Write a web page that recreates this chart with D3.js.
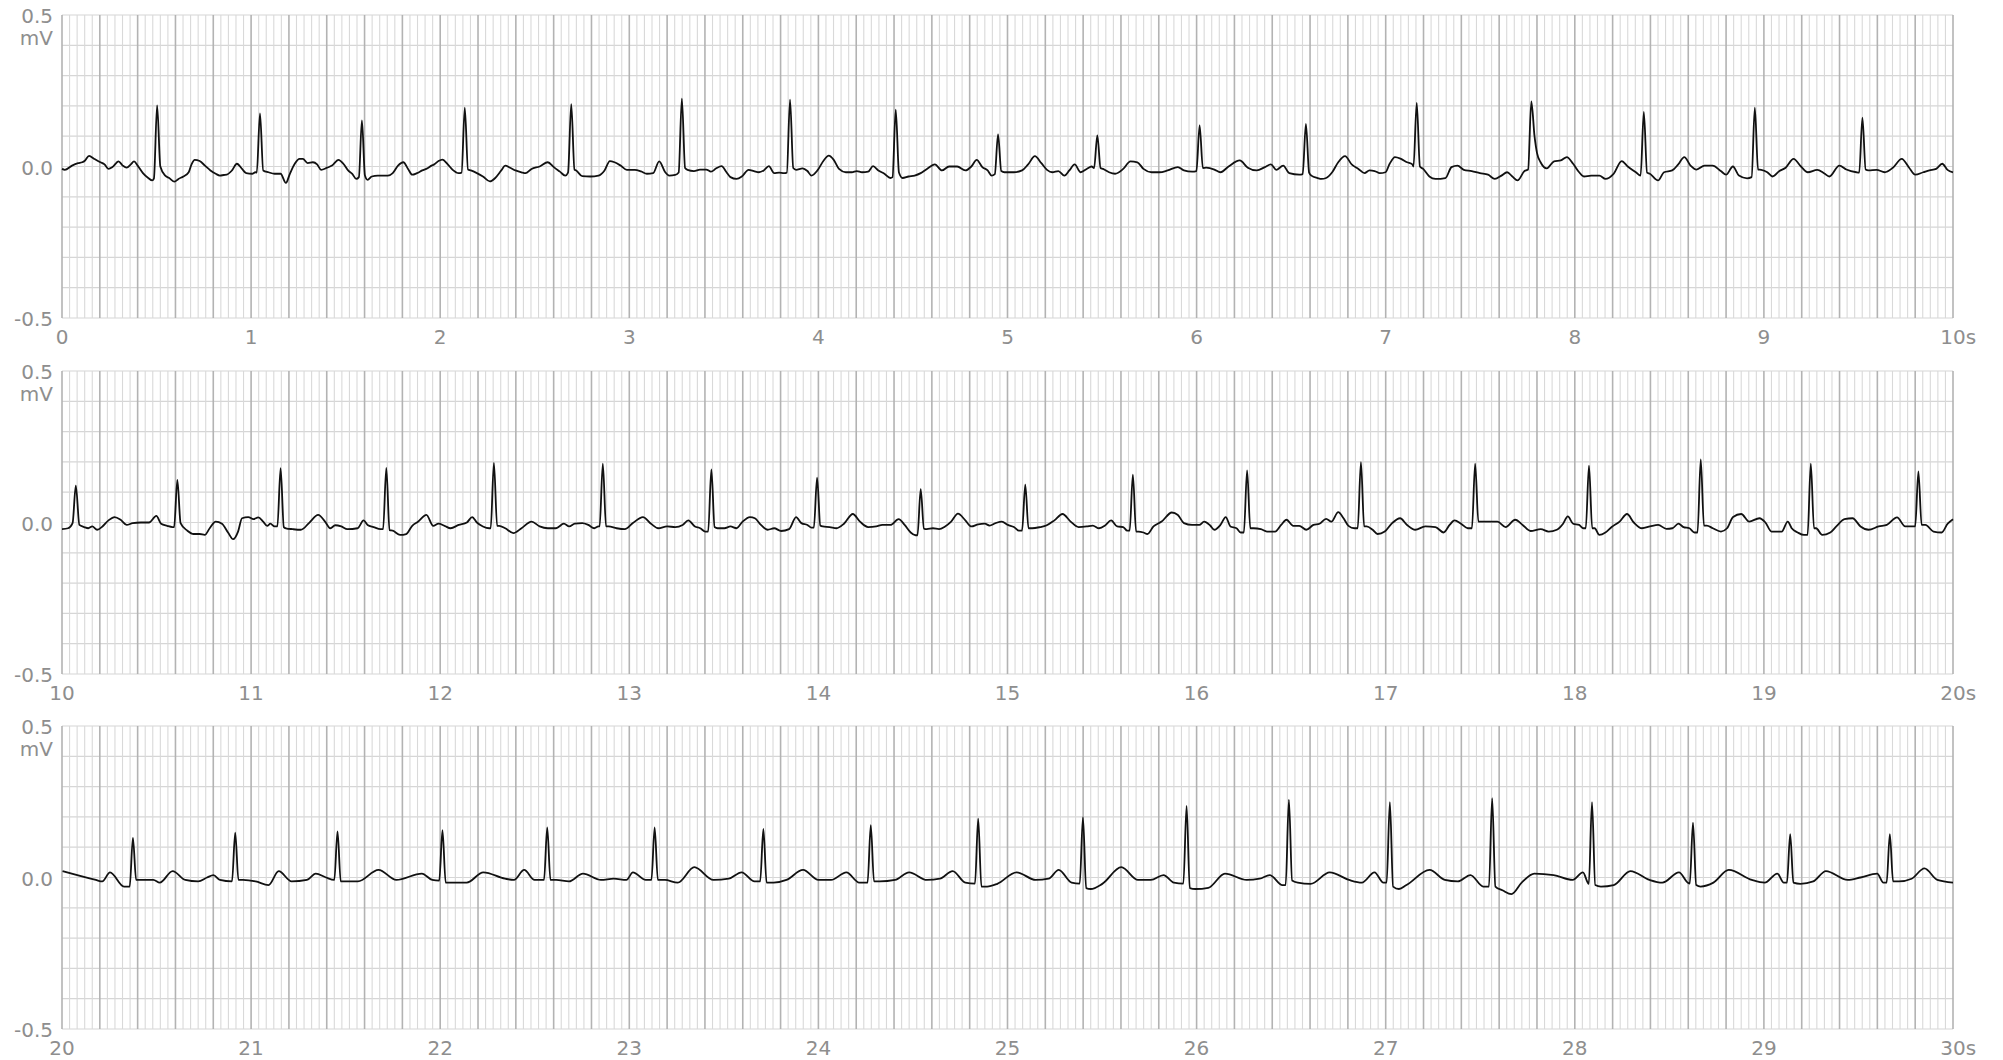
<!DOCTYPE html>
<html>

<head>
    <meta charset="utf-8">
    <title>ECG strip</title>
    <script src="https://d3js.org/d3.v7.min.js"></script>
    <style>
        body { margin: 0; background: #fff; }
        text { font-family: "DejaVu Sans", Lato, sans-serif; fill: #8e8e8e; font-size: 20px; }
    </style>
</head>

<body>
    <svg id="chart" width="2003" height="1060"></svg>

    <script>
        // Strip start times (s), y tick labels (mV)
        const stripStarts = [0, 10, 20];
        const yTickValues = [0.5, 0.0, -0.5];
        const yUnit = 'mV';
        const xUnit = 's';

        // ECG trace, [seconds, mV]
        const ecg1 = [[0.000,-0.008],[0.015,-0.011],[0.053,0.003],[0.085,0.011],[0.107,0.014],[0.122,0.020],[0.143,0.035],[0.171,0.025],[0.203,0.014],[0.225,0.007],[0.246,-0.008],[0.267,-0.002],[0.299,0.017],[0.321,0.003],[0.342,-0.004],[0.364,0.007],[0.381,0.017],[0.400,0.003],[0.428,-0.022],[0.456,-0.038],[0.477,-0.046],[0.486,-0.040],[0.503,0.202],[0.520,0.000],[0.546,-0.030],[0.567,-0.038],[0.595,-0.050],[0.616,-0.041],[0.642,-0.033],[0.670,-0.019],[0.685,0.007],[0.702,0.022],[0.728,0.018],[0.756,0.003],[0.785,-0.013],[0.813,-0.024],[0.835,-0.030],[0.856,-0.028],[0.871,-0.027],[0.899,-0.013],[0.925,0.009],[0.952,-0.008],[0.974,-0.022],[1.006,-0.024],[1.023,-0.019],[1.030,-0.020],[1.047,0.175],[1.064,-0.013],[1.092,-0.019],[1.124,-0.024],[1.156,-0.024],[1.184,-0.054],[1.205,-0.024],[1.231,0.009],[1.256,0.025],[1.274,0.025],[1.299,0.011],[1.327,0.014],[1.349,0.007],[1.370,-0.011],[1.402,-0.004],[1.428,0.003],[1.462,0.022],[1.488,0.009],[1.513,-0.013],[1.535,-0.024],[1.556,-0.041],[1.570,-0.035],[1.586,0.152],[1.602,-0.030],[1.616,-0.044],[1.638,-0.033],[1.670,-0.030],[1.702,-0.030],[1.723,-0.030],[1.749,-0.022],[1.777,0.003],[1.805,0.014],[1.830,-0.008],[1.852,-0.027],[1.877,-0.022],[1.905,-0.013],[1.933,-0.006],[1.954,0.003],[1.969,0.007],[1.991,0.018],[2.012,0.023],[2.040,0.007],[2.066,-0.011],[2.098,-0.022],[2.113,-0.020],[2.130,0.194],[2.147,-0.010],[2.162,-0.013],[2.194,-0.022],[2.226,-0.033],[2.263,-0.049],[2.291,-0.038],[2.323,-0.013],[2.344,0.003],[2.370,-0.004],[2.398,-0.013],[2.430,-0.019],[2.451,-0.022],[2.483,-0.008],[2.526,0.000],[2.569,0.014],[2.601,-0.002],[2.633,-0.017],[2.661,-0.030],[2.676,-0.020],[2.693,0.206],[2.710,-0.010],[2.719,-0.013],[2.751,-0.032],[2.794,-0.033],[2.837,-0.030],[2.869,-0.013],[2.897,0.018],[2.922,0.014],[2.954,0.003],[2.987,-0.011],[3.029,-0.011],[3.062,-0.016],[3.093,-0.024],[3.126,-0.022],[3.158,0.017],[3.190,-0.019],[3.211,-0.030],[3.243,-0.028],[3.261,-0.020],[3.278,0.224],[3.295,-0.005],[3.308,-0.011],[3.342,-0.015],[3.374,-0.010],[3.407,-0.010],[3.432,-0.017],[3.460,-0.006],[3.488,0.001],[3.514,-0.019],[3.535,-0.035],[3.567,-0.041],[3.595,-0.033],[3.631,-0.011],[3.659,-0.015],[3.685,-0.019],[3.711,-0.013],[3.738,0.001],[3.766,-0.022],[3.792,-0.020],[3.818,-0.022],[3.833,-0.020],[3.850,0.221],[3.867,-0.005],[3.882,-0.011],[3.916,-0.006],[3.942,-0.015],[3.963,-0.030],[3.995,-0.013],[4.028,0.020],[4.055,0.036],[4.081,0.022],[4.109,-0.008],[4.145,-0.019],[4.177,-0.019],[4.203,-0.015],[4.231,-0.019],[4.263,-0.017],[4.289,0.001],[4.317,-0.013],[4.349,-0.024],[4.381,-0.038],[4.392,-0.035],[4.409,0.188],[4.426,-0.020],[4.445,-0.038],[4.477,-0.033],[4.509,-0.030],[4.541,-0.022],[4.574,-0.008],[4.616,0.007],[4.653,-0.013],[4.691,0.000],[4.734,0.000],[4.777,-0.013],[4.809,0.000],[4.837,0.022],[4.867,-0.002],[4.895,-0.013],[4.916,-0.030],[4.933,-0.025],[4.950,0.106],[4.967,-0.015],[4.984,-0.019],[5.034,-0.019],[5.077,-0.013],[5.109,0.007],[5.145,0.034],[5.179,0.011],[5.209,-0.011],[5.237,-0.019],[5.269,-0.015],[5.301,-0.030],[5.327,-0.013],[5.355,0.007],[5.387,-0.019],[5.419,-0.008],[5.445,0.000],[5.458,-0.005],[5.475,0.103],[5.492,-0.005],[5.505,-0.008],[5.537,-0.019],[5.569,-0.024],[5.612,-0.008],[5.650,0.017],[5.687,0.014],[5.719,-0.008],[5.762,-0.019],[5.804,-0.019],[5.847,-0.013],[5.901,-0.002],[5.933,-0.013],[5.976,-0.017],[5.999,-0.015],[6.016,0.136],[6.033,-0.005],[6.051,-0.004],[6.094,-0.010],[6.126,-0.019],[6.169,0.000],[6.228,0.020],[6.271,-0.004],[6.318,-0.013],[6.361,-0.002],[6.393,0.007],[6.421,-0.011],[6.458,0.003],[6.490,-0.022],[6.543,-0.027],[6.561,-0.025],[6.578,0.141],[6.595,-0.020],[6.607,-0.030],[6.640,-0.038],[6.660,-0.041],[6.685,-0.038],[6.717,-0.019],[6.749,0.014],[6.785,0.034],[6.820,0.007],[6.856,-0.008],[6.888,-0.022],[6.914,-0.013],[6.942,-0.015],[6.969,-0.022],[6.999,-0.019],[7.021,0.009],[7.049,0.031],[7.081,0.025],[7.113,0.014],[7.141,0.007],[7.147,0.000],[7.164,0.210],[7.181,0.000],[7.198,-0.008],[7.231,-0.033],[7.263,-0.041],[7.316,-0.038],[7.348,-0.002],[7.380,0.003],[7.413,-0.011],[7.455,-0.015],[7.498,-0.022],[7.541,-0.027],[7.577,-0.041],[7.612,-0.030],[7.642,-0.019],[7.670,-0.033],[7.697,-0.046],[7.734,-0.015],[7.753,-0.010],[7.770,0.215],[7.787,0.100],[7.800,0.045],[7.819,0.014],[7.852,-0.006],[7.890,0.017],[7.926,0.020],[7.958,0.031],[7.991,0.009],[8.023,-0.019],[8.048,-0.033],[8.087,-0.030],[8.130,-0.030],[8.162,-0.041],[8.205,-0.024],[8.248,0.018],[8.280,0.000],[8.323,-0.019],[8.348,-0.030],[8.365,0.180],[8.382,-0.020],[8.397,-0.024],[8.440,-0.046],[8.472,-0.019],[8.515,-0.013],[8.547,0.007],[8.579,0.031],[8.612,0.003],[8.644,-0.010],[8.686,0.003],[8.729,0.003],[8.772,-0.015],[8.800,-0.027],[8.836,0.000],[8.868,-0.030],[8.911,-0.039],[8.935,-0.035],[8.952,0.194],[8.969,-0.010],[8.986,-0.011],[9.018,-0.019],[9.046,-0.033],[9.082,-0.015],[9.115,-0.004],[9.157,0.025],[9.196,0.000],[9.232,-0.019],[9.282,-0.011],[9.318,-0.022],[9.346,-0.033],[9.399,0.003],[9.436,-0.010],[9.489,-0.019],[9.504,-0.020],[9.521,0.161],[9.538,-0.010],[9.553,-0.013],[9.596,-0.011],[9.639,-0.019],[9.682,-0.004],[9.729,0.025],[9.768,-0.004],[9.800,-0.027],[9.843,-0.019],[9.875,-0.013],[9.911,-0.008],[9.943,0.009],[9.971,-0.011],[10.000,-0.019]];

        const ecg2 = [[10.000,-0.022],[10.032,-0.019],[10.056,-0.002],[10.073,0.122],[10.092,-0.008],[10.117,-0.015],[10.139,-0.019],[10.160,-0.013],[10.186,-0.024],[10.214,-0.013],[10.246,0.007],[10.278,0.018],[10.310,0.009],[10.342,-0.008],[10.374,-0.002],[10.417,0.000],[10.460,0.000],[10.499,0.022],[10.524,-0.004],[10.556,-0.011],[10.584,-0.015],[10.593,-0.015],[10.610,0.141],[10.627,-0.002],[10.663,-0.027],[10.696,-0.038],[10.728,-0.038],[10.755,-0.041],[10.781,-0.019],[10.813,0.003],[10.846,-0.004],[10.878,-0.033],[10.905,-0.055],[10.931,-0.030],[10.952,0.014],[10.985,0.018],[11.012,0.011],[11.038,0.017],[11.064,0.003],[11.085,-0.011],[11.102,-0.004],[11.124,-0.013],[11.139,-0.013],[11.156,0.179],[11.173,-0.015],[11.184,-0.019],[11.220,-0.022],[11.263,-0.024],[11.306,-0.002],[11.355,0.025],[11.391,0.003],[11.419,-0.019],[11.445,-0.009],[11.477,-0.013],[11.509,-0.022],[11.563,-0.019],[11.595,0.007],[11.616,-0.008],[11.648,-0.015],[11.685,-0.022],[11.698,-0.022],[11.715,0.180],[11.732,-0.025],[11.749,-0.027],[11.788,-0.041],[11.820,-0.038],[11.852,-0.011],[11.884,0.003],[11.927,0.025],[11.963,-0.011],[11.991,-0.004],[12.023,-0.011],[12.055,-0.019],[12.098,-0.008],[12.141,0.000],[12.169,0.018],[12.194,0.000],[12.226,-0.013],[12.259,-0.019],[12.267,-0.019],[12.284,0.197],[12.301,-0.011],[12.312,-0.011],[12.344,-0.019],[12.387,-0.035],[12.430,-0.019],[12.483,0.003],[12.526,-0.013],[12.569,-0.019],[12.612,-0.019],[12.654,-0.004],[12.682,-0.013],[12.712,-0.004],[12.751,-0.002],[12.783,-0.008],[12.815,-0.019],[12.837,-0.013],[12.843,-0.013],[12.860,0.194],[12.877,-0.013],[12.890,-0.013],[12.933,-0.019],[12.976,-0.022],[13.019,-0.002],[13.072,0.018],[13.115,-0.004],[13.153,-0.019],[13.200,-0.013],[13.243,-0.015],[13.282,-0.008],[13.312,0.007],[13.347,-0.013],[13.375,-0.019],[13.402,-0.030],[13.417,-0.030],[13.434,0.175],[13.451,-0.015],[13.467,-0.019],[13.503,-0.019],[13.535,-0.013],[13.567,-0.019],[13.599,0.003],[13.638,0.018],[13.664,0.014],[13.696,-0.008],[13.732,-0.024],[13.766,-0.019],[13.803,-0.028],[13.845,-0.022],[13.882,0.018],[13.910,-0.002],[13.942,-0.008],[13.963,-0.017],[13.976,-0.017],[13.993,0.148],[14.010,-0.010],[14.023,-0.013],[14.060,-0.015],[14.096,-0.019],[14.135,-0.004],[14.182,0.028],[14.220,0.003],[14.263,-0.015],[14.306,-0.013],[14.338,-0.008],[14.381,-0.008],[14.424,0.011],[14.456,-0.008],[14.488,-0.033],[14.514,-0.042],[14.524,-0.042],[14.541,0.110],[14.558,-0.020],[14.573,-0.022],[14.606,-0.019],[14.638,-0.022],[14.670,-0.013],[14.702,0.003],[14.738,0.029],[14.777,0.007],[14.809,-0.013],[14.845,-0.006],[14.880,-0.004],[14.905,-0.010],[14.937,-0.002],[14.970,0.003],[15.002,-0.008],[15.034,-0.015],[15.060,-0.027],[15.077,-0.027],[15.094,0.125],[15.111,-0.019],[15.130,-0.019],[15.173,-0.015],[15.205,-0.010],[15.248,0.007],[15.291,0.028],[15.334,0.003],[15.376,-0.015],[15.419,-0.013],[15.451,-0.010],[15.484,-0.019],[15.516,-0.010],[15.548,0.007],[15.580,-0.013],[15.612,-0.015],[15.633,-0.027],[15.646,-0.027],[15.663,0.158],[15.680,-0.030],[15.693,-0.030],[15.719,-0.033],[15.740,-0.038],[15.772,-0.013],[15.815,0.003],[15.869,0.033],[15.901,0.025],[15.933,-0.002],[15.976,-0.008],[16.014,-0.008],[16.040,0.003],[16.072,-0.010],[16.094,-0.024],[16.126,-0.008],[16.154,0.018],[16.179,-0.013],[16.211,-0.019],[16.233,-0.033],[16.250,-0.033],[16.267,0.172],[16.284,-0.019],[16.301,-0.019],[16.340,-0.022],[16.372,-0.030],[16.415,-0.030],[16.447,-0.008],[16.475,0.009],[16.511,-0.011],[16.543,-0.011],[16.580,-0.024],[16.618,-0.008],[16.650,-0.004],[16.685,0.012],[16.713,0.003],[16.749,0.034],[16.777,0.014],[16.803,-0.011],[16.835,-0.019],[16.852,-0.019],[16.869,0.199],[16.886,-0.013],[16.899,-0.013],[16.931,-0.024],[16.957,-0.038],[16.995,-0.030],[17.034,-0.002],[17.076,0.014],[17.113,-0.008],[17.156,-0.024],[17.209,-0.013],[17.263,-0.015],[17.306,-0.033],[17.338,-0.008],[17.364,0.007],[17.398,-0.004],[17.434,-0.019],[17.456,-0.019],[17.473,0.194],[17.490,0.003],[17.509,0.003],[17.552,0.003],[17.591,0.003],[17.634,-0.015],[17.685,0.009],[17.724,-0.008],[17.766,-0.028],[17.820,-0.022],[17.862,-0.030],[17.905,-0.024],[17.938,-0.004],[17.963,0.020],[17.991,-0.004],[18.023,-0.008],[18.045,-0.019],[18.058,-0.019],[18.075,0.188],[18.092,-0.019],[18.105,-0.019],[18.130,-0.041],[18.162,-0.033],[18.195,-0.015],[18.237,0.003],[18.276,0.028],[18.312,0.000],[18.355,-0.019],[18.398,-0.013],[18.441,-0.008],[18.484,-0.021],[18.516,-0.019],[18.548,-0.004],[18.575,-0.015],[18.606,-0.019],[18.633,-0.033],[18.649,-0.033],[18.666,0.208],[18.683,-0.010],[18.698,-0.010],[18.730,-0.019],[18.773,-0.030],[18.805,-0.019],[18.837,0.018],[18.880,0.028],[18.922,0.003],[18.976,0.014],[19.008,0.000],[19.040,-0.030],[19.094,-0.030],[19.126,0.003],[19.147,-0.019],[19.179,-0.033],[19.212,-0.041],[19.231,-0.041],[19.248,0.194],[19.265,-0.019],[19.276,-0.019],[19.308,-0.041],[19.351,-0.033],[19.383,-0.013],[19.426,0.011],[19.469,0.014],[19.511,-0.013],[19.554,-0.024],[19.607,-0.013],[19.650,-0.008],[19.704,0.017],[19.747,-0.013],[19.789,-0.013],[19.800,-0.013],[19.817,0.169],[19.834,-0.008],[19.854,-0.008],[19.897,-0.030],[19.940,-0.033],[19.972,-0.004],[20.000,0.011]];

        const ecg3 = [[20.003,0.021],[20.179,-0.008],[20.213,-0.013],[20.254,0.017],[20.328,-0.030],[20.358,-0.030],[20.375,0.131],[20.392,-0.008],[20.416,-0.008],[20.483,-0.008],[20.517,-0.017],[20.585,0.021],[20.652,-0.008],[20.720,-0.013],[20.767,0.000],[20.801,0.008],[20.835,-0.008],[20.899,-0.013],[20.916,0.148],[20.933,-0.008],[20.957,-0.008],[21.024,-0.013],[21.092,-0.025],[21.146,0.021],[21.214,-0.013],[21.295,-0.008],[21.342,0.013],[21.396,0.000],[21.440,-0.008],[21.457,0.152],[21.474,-0.013],[21.511,-0.013],[21.565,-0.013],[21.674,0.025],[21.768,-0.008],[21.903,0.013],[21.958,-0.008],[21.995,-0.010],[22.012,0.156],[22.029,-0.017],[22.059,-0.017],[22.140,-0.017],[22.228,0.017],[22.343,-0.004],[22.390,-0.008],[22.444,0.025],[22.499,-0.008],[22.549,-0.008],[22.566,0.165],[22.583,-0.008],[22.613,-0.008],[22.681,-0.013],[22.755,0.013],[22.850,-0.008],[22.918,-0.004],[22.985,-0.008],[23.019,0.017],[23.087,-0.008],[23.117,-0.008],[23.134,0.165],[23.151,-0.008],[23.188,-0.008],[23.256,-0.017],[23.344,0.034],[23.445,-0.008],[23.526,-0.004],[23.594,0.017],[23.662,-0.013],[23.692,-0.013],[23.709,0.160],[23.726,-0.017],[23.763,-0.017],[23.831,-0.008],[23.919,0.025],[24.000,-0.008],[24.067,-0.008],[24.148,0.017],[24.216,-0.017],[24.260,-0.017],[24.277,0.173],[24.294,-0.013],[24.324,-0.013],[24.405,-0.008],[24.480,0.017],[24.574,-0.008],[24.642,-0.004],[24.710,0.021],[24.777,-0.017],[24.828,-0.020],[24.845,0.194],[24.862,-0.030],[24.892,-0.030],[24.946,-0.021],[25.048,0.017],[25.149,-0.008],[25.217,-0.004],[25.271,0.025],[25.339,-0.017],[25.382,-0.020],[25.399,0.198],[25.416,-0.035],[25.440,-0.038],[25.501,-0.021],[25.602,0.034],[25.690,-0.008],[25.758,-0.008],[25.825,0.008],[25.880,-0.017],[25.930,-0.020],[25.947,0.236],[25.964,-0.035],[25.994,-0.038],[26.062,-0.034],[26.150,0.013],[26.265,-0.008],[26.333,-0.004],[26.387,0.008],[26.454,-0.025],[26.471,-0.025],[26.488,0.257],[26.505,-0.010],[26.535,-0.017],[26.603,-0.021],[26.704,0.017],[26.806,-0.008],[26.874,-0.017],[26.941,0.017],[26.988,-0.017],[27.005,-0.017],[27.022,0.249],[27.039,-0.030],[27.070,-0.038],[27.110,-0.025],[27.232,0.025],[27.313,-0.008],[27.381,-0.013],[27.448,0.008],[27.516,-0.030],[27.546,-0.030],[27.563,0.262],[27.580,-0.030],[27.617,-0.042],[27.665,-0.055],[27.719,-0.017],[27.786,0.013],[27.888,0.008],[27.989,-0.008],[28.043,0.017],[28.074,-0.021],[28.091,0.249],[28.108,-0.025],[28.138,-0.030],[28.206,-0.025],[28.294,0.021],[28.395,-0.008],[28.463,-0.017],[28.551,0.017],[28.598,-0.017],[28.608,-0.020],[28.625,0.181],[28.642,-0.025],[28.665,-0.030],[28.733,-0.017],[28.814,0.025],[28.936,-0.008],[29.004,-0.017],[29.071,0.013],[29.105,-0.017],[29.122,-0.017],[29.139,0.143],[29.156,-0.017],[29.193,-0.021],[29.261,-0.013],[29.328,0.021],[29.443,-0.008],[29.511,0.000],[29.599,0.013],[29.632,-0.017],[29.649,-0.017],[29.666,0.143],[29.683,-0.013],[29.714,-0.013],[29.781,-0.004],[29.849,0.030],[29.917,-0.008],[30.000,-0.017]];

        const traces = [ecg1, ecg2, ecg3];

        const svg = d3.select('#chart');

        const left = 62;
        const right = 1953;
        const stripHeight = 303;
        const stripTops = [15, 371, 726];

        stripStarts.forEach((start, k) => {
            const top = stripTops[k];
            const g = svg.append('g');

            const x = d3.scaleLinear()
                        .domain([start, start + 10])
                        .range([left, right]);
            const y = d3.scaleLinear()
                        .domain([-0.5, 0.5])
                        .range([top + stripHeight, top]);

            // Horizontal grid lines every 0.1 mV
            d3.range(-5, 6).forEach((i) => {
                g.append('line')
                 .attr('x1', left)
                 .attr('x2', right)
                 .attr('y1', y(i / 10))
                 .attr('y2', y(i / 10))
                 .attr('stroke', '#d6d6d6')
                 .attr('stroke-width', 1.2);
            });

            // Vertical grid lines, small box 0.04 s, big box 0.2 s
            d3.range(0, 251).forEach((i) => {
                const major = i % 5 === 0;
                const t = start + i * 0.04;
                g.append('line')
                 .attr('x1', x(t))
                 .attr('x2', x(t))
                 .attr('y1', top)
                 .attr('y2', top + stripHeight)
                 .attr('stroke', major ? '#b3b3b3' : '#d9d9d9')
                 .attr('stroke-width', major ? 1.6 : 1.1);
            });

            // Y labels
            yTickValues.forEach((v) => {
                g.append('text')
                 .attr('x', 53)
                 .attr('y', y(v) + 8)
                 .attr('text-anchor', 'end')
                 .text(v.toFixed(1));
            });
            g.append('text')
             .attr('x', 53)
             .attr('y', y(0.5) + 30)
             .attr('text-anchor', 'end')
             .text(yUnit);

            // X labels (whole seconds)
            d3.range(start, start + 11).forEach((s) => {
                const lbl = g.append('text')
                             .attr('x', x(s))
                             .attr('y', top + stripHeight + 26)
                             .attr('text-anchor', 'middle')
                             .text(s);
                if (s === start + 10) {
                    const w = lbl.node().getComputedTextLength();
                    g.append('text')
                     .attr('x', x(s) + w / 2)
                     .attr('y', top + stripHeight + 26)
                     .text(xUnit);
                }
            });

            // ECG trace
            const line = d3.line()
                           .x((d) => x(d[0]))
                           .y((d) => y(d[1]))
                           .curve(d3.curveMonotoneX);
            g.append('path')
             .datum(traces[k])
             .attr('d', line)
             .attr('fill', 'none')
             .attr('stroke', '#111')
             .attr('stroke-width', 1.8)
             .attr('stroke-linejoin', 'round');
        });
    </script>
</body>

</html>
